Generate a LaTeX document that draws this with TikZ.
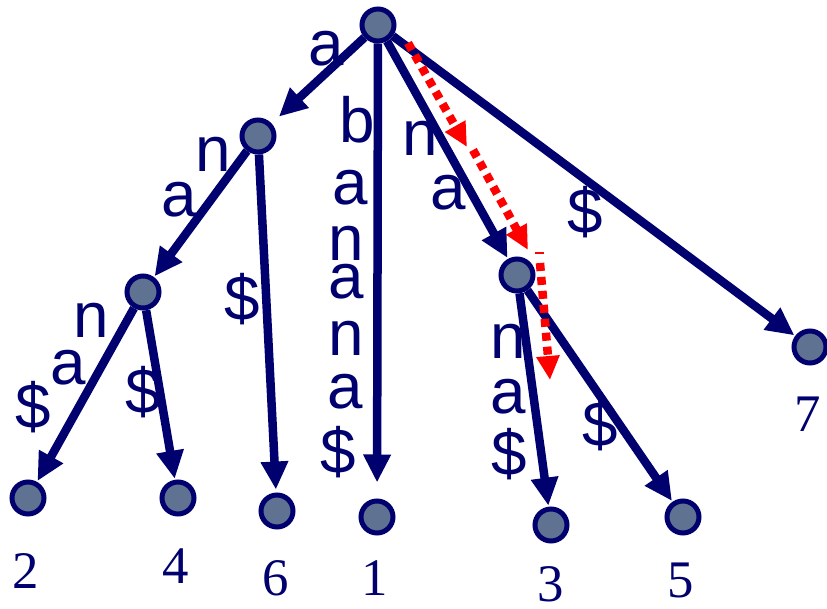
\documentclass[tikz,border=0pt]{standalone}
\usepackage{fontspec}
\setmainfont{Liberation Serif}
\setsansfont{Liberation Sans}
\usetikzlibrary{arrows.meta}
\definecolor{navy}{RGB}{0,0,110}
\definecolor{nodefill}{RGB}{96,114,145}
\begin{document}
\begin{tikzpicture}[x=1bp,y=-1bp,
  vert/.style={circle, draw=navy, fill=nodefill, line width=5bp, minimum size=32bp, inner sep=0},
  edge/.style={draw=navy, line width=8.5bp, -{Triangle[length=28bp,width=26bp]}, shorten >=1bp},
  lbl/.style={text=navy, font=\fontsize{64}{70}\selectfont\sffamily, inner sep=0},
  num/.style={text=navy, font=\fontsize{53}{60}\selectfont\rmfamily, inner sep=0},
  redpath/.style={draw=red, line width=8.5bp, dash pattern=on 8bp off 6bp, -{Triangle[length=24bp,width=22bp]}}]
\useasboundingbox (0,0) rectangle (827,609);

% vertices
\node[vert] (r) at (378,25) {};
\node[vert] (A) at (258,136) {};
\node[vert] (B) at (143,292) {};
\node[vert] (C) at (517,275) {};
\node[vert] (l2) at (28,498) {};
\node[vert] (l4) at (178,498) {};
\node[vert] (l6) at (277,511) {};
\node[vert] (l1) at (377,517) {};
\node[vert] (l3) at (551,525) {};
\node[vert] (l5) at (683,517) {};
\node[vert] (l7) at (810,347) {};

% edges
\draw[edge, shorten >=10bp] (r) -- (A);
\draw[edge, shorten >=16bp] (r) -- (l1);
\draw[edge] (r) -- (C);
\draw[edge] (r) -- (l7);
\draw[edge] (A) -- (B);
\draw[edge, shorten >=3bp] (A) -- (l6);
\draw[edge] (B) -- (l2);
\draw[edge] (B) -- (l4);
\draw[edge] (C) -- (l3);
\draw[edge] (C) -- (l5);

% red search path
\coordinate (p1s) at (408,43);
\coordinate (p1e) at (467,147);
\coordinate (p2s) at (473,150);
\coordinate (p2e) at (528,250);
\coordinate (p3s) at (540,263);
\coordinate (p3e) at (550,380);
\coordinate (tks) at (535,253);
\coordinate (tke) at (544,253);
\draw[redpath] (p1s) -- (p1e);
\draw[redpath] (p2s) -- (p2e);
\draw[redpath] (p3s) -- (p3e);
\draw[red, line width=2bp] (tks) -- (tke);

% edge labels
\node[lbl] (ta) at (326,49) {a};
\node[lbl] (tb1) at (357,120) {b};
\node[lbl] (tb2) at (350,188) {a};
\node[lbl] (tb3) at (346,243) {n};
\node[lbl] (tb4) at (346,282) {a};
\node[lbl] (tb5) at (346,338) {n};
\node[lbl] (tb6) at (345,392) {a};
\node[lbl] (tb7) at (338,452) {\$};
\node[lbl] (tAn) at (213,154) {n};
\node[lbl] (tAa) at (179,200) {a};
\node[lbl] (tA6) at (242,299) {\$};
\node[lbl] (tBn) at (91,320) {n};
\node[lbl] (tBa) at (68,368) {a};
\node[lbl] (tBd) at (33,407) {\$};
\node[lbl] (tB4) at (143,392) {\$};
\node[lbl] (tCn) at (420,138) {n};
\node[lbl] (tCa) at (448,193) {a};
\node[lbl] (t7) at (585,212) {\$};
\node[lbl] (t3n) at (508,341) {n};
\node[lbl] (t3a) at (508,397) {a};
\node[lbl] (t3d) at (509,454) {\$};
\node[lbl] (t5) at (600,425) {\$};

% leaf numbers
\node[num] (n2) at (26,571) {2};
\node[num] (n4) at (176,566) {4};
\node[num] (n6) at (276,578) {6};
\node[num] (n1) at (375,578) {1};
\node[num] (n3) at (551,584) {3};
\node[num] (n5) at (681,580) {5};
\node[num] (n7) at (808,414) {7};
\end{tikzpicture}
\end{document}
